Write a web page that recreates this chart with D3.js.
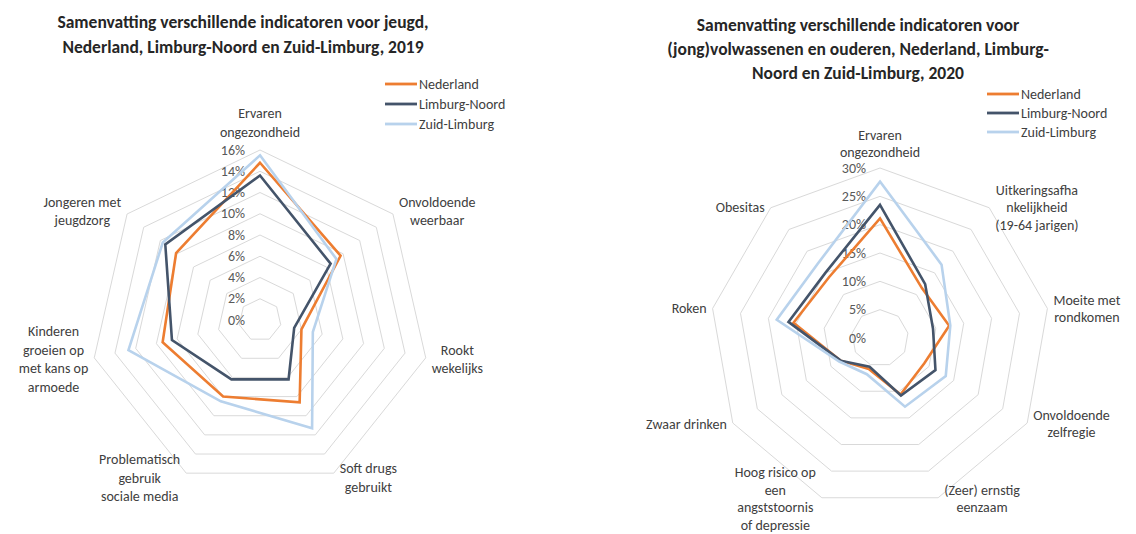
<!DOCTYPE html>
<html>
<head>
<meta charset="utf-8">
<script src="https://cdn.jsdelivr.net/npm/d3@7"></script>
<style>
  body { margin: 0; background: #fff; }
  svg { font-family: Calibri, Carlito, Lato, sans-serif; }
  .title { font-weight: bold; fill: #262626; }
  .cat-label { fill: #404040; font-size: 14px; }
  .tick-label { fill: #595959; font-size: 14px; }
  .legend-label { fill: #404040; font-size: 14px; }
</style>
</head>
<body>
<div id="chart"></div>
<script>
// series names + colours
const seriesNames = ["Nederland", "Limburg-Noord", "Zuid-Limburg"];
const seriesColors = ["#ED7D31", "#44546A", "#B8D2EC"];

// chart 1 - jeugd, 2019
const title1 = ["Samenvatting verschillende indicatoren voor jeugd,", "Nederland, Limburg-Noord en Zuid-Limburg, 2019"];
const categories1 = [
  ["Ervaren", "ongezondheid"],
  ["Onvoldoende", "weerbaar"],
  ["Rookt", "wekelijks"],
  ["Soft drugs", "gebruikt"],
  ["Problematisch", "gebruik", "sociale media"],
  ["Kinderen", "groeien op", "met kans op", "armoede"],
  ["Jongeren met", "jeugdzorg"]
];
const nederland1    = [14.8, 9.7, 4.0, 8.6, 8.0, 9.4, 10.1];
const limburgNoord1 = [13.6, 8.5, 3.3, 6.2, 6.2, 8.5, 11.4];
const zuidLimburg1  = [15.5, 9.2, 5.1, 11.3, 8.5, 12.7, 11.7];
const ticks1 = [0, 2, 4, 6, 8, 10, 12, 14, 16];

// chart 2 - (jong)volwassenen en ouderen, 2020
const title2 = ["Samenvatting verschillende indicatoren voor", "(jong)volwassenen en ouderen, Nederland, Limburg-", "Noord en Zuid-Limburg, 2020"];
const categories2 = [
  ["Ervaren", "ongezondheid"],
  ["Uitkeringsafha", "nkelijkheid", "(19-64 jarigen)"],
  ["Moeite met", "rondkomen"],
  ["Onvoldoende", "zelfregie"],
  ["(Zeer) ernstig", "eenzaam"],
  ["Hoog risico op", "een", "angststoornis", "of depressie"],
  ["Zwaar drinken"],
  ["Roken"],
  ["Obesitas"]
];
const nederland2    = [21.1, 11.5, 12.4, 9.0, 10.6, 5.8, 8.0, 15.5, 14.0];
const limburgNoord2 = [23.5, 12.4, 9.5, 11.3, 10.8, 5.4, 8.0, 16.4, 15.0];
const zuidLimburg2  = [27.6, 16.9, 12.6, 13.4, 12.9, 6.8, 8.3, 18.5, 17.1];
const ticks2 = [0, 5, 10, 15, 20, 25, 30];

const width = 1136, height = 534;

const svg = d3.select("#chart").append("svg")
    .attr("width", width)
    .attr("height", height);

function drawRadar(config, title, categories, series, ticks) {
    const g = svg.append("g").attr("transform", `translate(${config.cx},${config.cy})`);
    const n = categories.length;
    const angle = i => i * 2 * Math.PI / n;
    const r = d3.scaleLinear().domain([0, d3.max(ticks)]).range([0, config.radius]);

    // rings
    const ring = d3.lineRadial().angle((d, i) => angle(i)).radius(d => r(d)).curve(d3.curveLinearClosed);
    g.selectAll(".ring").data(ticks.slice(1)).enter()
        .append("path")
        .attr("class", "ring")
        .attr("d", t => ring(d3.range(n).map(() => t)))
        .attr("fill", "none")
        .attr("stroke", "#d9d9d9")
        .attr("stroke-width", 1);

    // tick labels
    g.selectAll(".tick-label").data(ticks).enter()
        .append("text")
        .attr("class", "tick-label")
        .attr("x", -config.tickGap)
        .attr("y", t => -r(t))
        .attr("text-anchor", "end")
        .attr("dominant-baseline", "central")
        .text(t => t + "%");

    // series lines
    const line = d3.lineRadial().angle((d, i) => angle(i)).radius(d => r(d)).curve(d3.curveLinearClosed);
    g.selectAll(".series").data(series).enter()
        .append("path")
        .attr("class", "series")
        .attr("d", s => line(s.values))
        .attr("fill", "none")
        .attr("stroke", s => s.color)
        .attr("stroke-width", 2.6)
        .attr("stroke-linejoin", "miter");

    // category labels
    const lh = config.labelLh;
    categories.forEach((lines, i) => {
        const a = angle(i);
        const ux = Math.sin(a), uy = -Math.cos(a);
        const vx = ux * config.radius, vy = uy * config.radius;
        const t = g.append("text").attr("class", "cat-label").attr("text-anchor", "middle");
        lines.forEach((l, j) => t.append("tspan").attr("x", 0).attr("dy", j ? lh : 0).text(l));
        const w = d3.max(t.selectAll("tspan").nodes(), nd => nd.getComputedTextLength());
        const h = lines.length * lh;
        let cx, cy;
        if (Math.abs(ux) < 0.1) {
            cx = vx;
            cy = vy + (uy < 0 ? -(h / 2 + config.labelPad) : (h / 2 + config.labelPad));
        } else {
            cx = vx + Math.sign(ux) * (w / 2 + 6);
            cy = vy + uy * config.labelDrop;
        }
        const y0 = cy - h / 2 + lh / 2;
        t.attr("transform", `translate(${cx},${y0})`).attr("dominant-baseline", "central");
    });

    // title
    const tt = svg.append("text").attr("class", "title")
        .attr("x", config.titleX)
        .attr("y", config.titleY)
        .attr("text-anchor", "middle")
        .attr("font-size", config.titleSize)
        .attr("dominant-baseline", "central");
    title.forEach((l, j) => tt.append("tspan").attr("x", config.titleX).attr("dy", j ? config.titleLh : 0).text(l));

    // legend
    const lg = svg.append("g").attr("transform", `translate(${config.legendX},${config.legendY})`);
    series.forEach((s, i) => {
        const row = lg.append("g").attr("transform", `translate(0,${i * config.legendGap})`);
        row.append("line").attr("x1", 0).attr("x2", 32).attr("y1", 0).attr("y2", 0)
            .attr("stroke", s.color).attr("stroke-width", 2.8);
        row.append("text").attr("class", "legend-label").attr("x", 34).attr("y", 0)
            .attr("dominant-baseline", "central").text(s.name);
    });
}

drawRadar(
    {cx: 260, cy: 320, radius: 170, tickGap: 15, labelPad: 9, labelLh: 18.5, labelDrop: 5,
     titleX: 243, titleY: 22, titleSize: 17.5, titleLh: 25,
     legendX: 385, legendY: 84, legendGap: 20},
    title1, categories1,
    [nederland1, limburgNoord1, zuidLimburg1].map((v, i) => ({name: seriesNames[i], color: seriesColors[i], values: v})),
    ticks1
);

drawRadar(
    {cx: 880, cy: 338, radius: 170, tickGap: 14, labelPad: 7, labelLh: 17.5, labelDrop: 1,
     titleX: 858, titleY: 25, titleSize: 17.5, titleLh: 24,
     legendX: 987, legendY: 94, legendGap: 19},
    title2, categories2,
    [nederland2, limburgNoord2, zuidLimburg2].map((v, i) => ({name: seriesNames[i], color: seriesColors[i], values: v})),
    ticks2
);
</script>
</body>
</html>
